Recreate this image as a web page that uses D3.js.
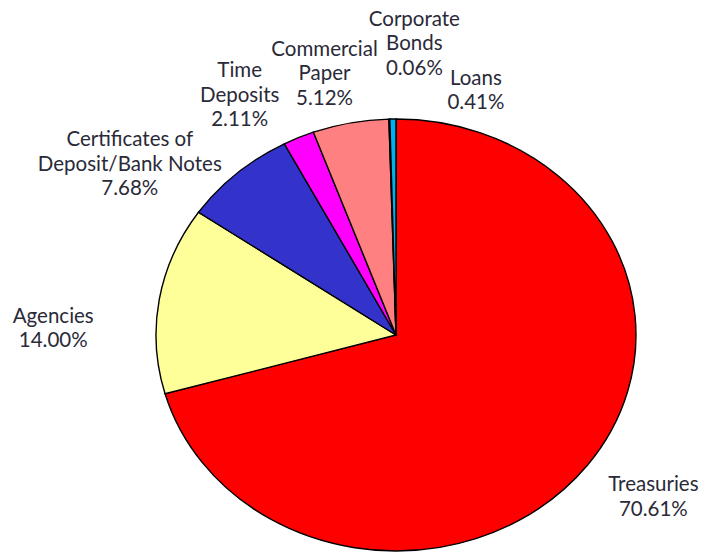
<!DOCTYPE html>
<html>
<head>
<meta charset="utf-8">
<script src="https://cdn.jsdelivr.net/npm/d3@7"></script>
<style>
  body { margin: 0; background: #fff; }
  text { font-family: Lato, "Open Sans", sans-serif; font-size: 20.5px; fill: #2a2a38; }
</style>
</head>
<body>
<svg width="701" height="552"></svg>
<script>
// portfolio breakdown (percent)
var categories = ["Treasuries", "Agencies", "Certificates of Deposit/Bank Notes",
    "Time Deposits", "Commercial Paper", "Corporate Bonds", "Loans"];
var values = [70.61, 14.00, 7.68, 2.11, 5.12, 0.06, 0.41];
var labelLines = [["Treasuries"], ["Agencies"], ["Certificates of", "Deposit/Bank Notes"],
    ["Time", "Deposits"], ["Commercial", "Paper"], ["Corporate", "Bonds"], ["Loans"]];
var colors = ["#ff0000", "#ffff99", "#3333cc", "#ff00ff", "#ff8080", "#000080", "#00b0f0"];

// label nudges from the rim point at each slice's middle angle
var nudge = [[66, 31], [-106, 28], [-107, -10], [-59, -43], [-26, -50], [25, -76], [83, -29]];

var svg = d3.select("svg"),
    cx = 396, cy = 335,
    rx = 240, ry = 216,
    lineH = 24.5;

var pie = d3.pie().sort(null).value(function (d) { return d; });
var arcs = pie(values);
var arc = d3.arc().innerRadius(0).outerRadius(ry);

// pie is drawn slightly stretched sideways, like the original
var g = svg.append("g")
    .attr("transform", "translate(" + cx + "," + cy + ") scale(" + (rx / ry) + ",1)");

g.selectAll("path")
    .data(arcs)
    .enter().append("path")
    .attr("d", arc)
    .attr("fill", function (d, i) { return colors[i]; })
    .attr("stroke", "#000")
    .attr("stroke-width", 1.4)
    .attr("vector-effect", "non-scaling-stroke");

var fmt = d3.format(".2f");

var labels = svg.selectAll("text.lbl")
    .data(arcs)
    .enter().append("text")
    .attr("class", "lbl")
    .attr("text-anchor", "middle")
    .each(function (d, i) {
        var a = (d.startAngle + d.endAngle) / 2;
        var x = cx + rx * Math.sin(a) + nudge[i][0],
            y = cy - ry * Math.cos(a) + nudge[i][1];
        var lines = labelLines[i].concat([fmt(values[i]) + "%"]);
        var top = y - (lines.length - 1) * lineH / 2;
        var t = d3.select(this);
        lines.forEach(function (s, k) {
            t.append("tspan")
                .attr("x", x)
                .attr("y", top + k * lineH)
                .attr("dy", "0.35em")
                .text(s);
        });
    });
</script>
</body>
</html>
